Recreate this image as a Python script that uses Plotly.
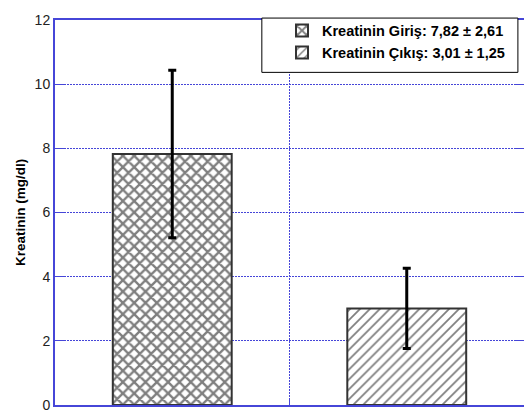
import plotly.graph_objects as go

# Kreatinin values (mg/dl): mean and standard deviation
groups = ["Kreatinin Giriş", "Kreatinin Çıkış"]
means = [7.82, 3.01]
sds = [2.61, 1.25]
positions = [0, 1]
patterns = ["x", "/"]
y_ticks = [0, 2, 4, 6, 8, 10, 12]

axis_blue = "#4646d8"
font_family = "Liberation Sans, Arial, sans-serif"

fig = go.Figure()
for name, m, s, xpos, shape in zip(groups, means, sds, positions, patterns):
    label = f"{name}: {m:.2f} ± {s:.2f}".replace(".", ",")
    fig.add_trace(go.Bar(
        x=[xpos], y=[m], name=label, width=0.507,
        marker=dict(
            color="white",
            line=dict(color="#333333", width=2),
            pattern=dict(shape=shape, fgcolor="black", bgcolor="white",
                         size=8 if shape == "x" else 7,
                         solidity=0.5 if shape == "x" else 0.25),
        ),
        error_y=dict(type="data", array=[s], visible=True,
                     color="black", thickness=3, width=4),
    ))

# legend frame with white fill, drawn over the grid
fig.add_shape(type="rect", xref="paper", yref="paper",
              x0=0.441, x1=0.987, y0=0.864, y1=1.005,
              line=dict(color="black", width=1), fillcolor="white",
              layer="above")

fig.update_layout(
    width=524, height=413,
    margin=dict(l=55, r=0, t=20, b=8),
    plot_bgcolor="white", paper_bgcolor="white",
    font=dict(family=font_family, color="#222222"),
    barmode="overlay",
    showlegend=True,
    legend=dict(
        x=0.484, xanchor="left", y=1.014, yanchor="top",
        bgcolor="rgba(0,0,0,0)", borderwidth=0,
        font=dict(size=14.5, family=font_family, color="black", weight="bold"),
        tracegroupgap=0, itemwidth=30,
    ),
)
fig.update_xaxes(
    range=[-0.5, 1.5], tickvals=[0.5], showticklabels=False,
    showgrid=True, gridcolor=axis_blue, griddash="2px,1px", gridwidth=1,
    showline=True, linecolor=axis_blue, linewidth=2, mirror="ticks",
    ticks="inside", ticklen=6, tickcolor=axis_blue, zeroline=False,
)
fig.update_yaxes(
    range=[0, 12], tickvals=y_ticks,
    tickfont=dict(size=14, color="#222222"),
    ticklabeloverflow="allow",
    showgrid=True, gridcolor=axis_blue, griddash="2px,1px", gridwidth=1,
    showline=True, linecolor=axis_blue, linewidth=2, mirror="ticks",
    ticks="inside", ticklen=9, tickcolor=axis_blue, zeroline=False,
    automargin=False,
    title=dict(text="<b>Kreatinin (mg/dl)</b>", font=dict(size=13.5, color="black"),
               standoff=6),
)

fig.write_html("out.html")
